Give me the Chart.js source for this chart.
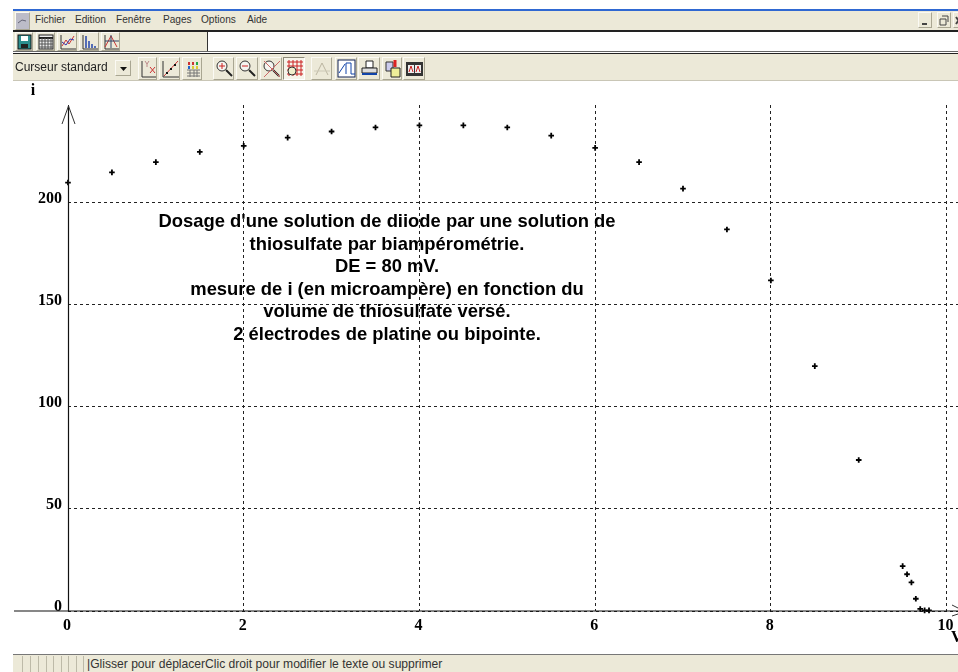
<!DOCTYPE html>
<html lang="fr">
<head>
<meta charset="utf-8">
<title>Dosage biampérométrique</title>
<script src="https://cdn.jsdelivr.net/npm/chart.js@4"></script>
<style>
    html, body { margin: 0; padding: 0; background: #fff; overflow: hidden; }
    #page { position: relative; width: 958px; height: 672px; overflow: hidden; font-family: "Liberation Sans", Arial, sans-serif; color: #111; }
    #graph { position: absolute; left: 0; top: 0; }
    .band { position: absolute; left: 13px; right: 0; background: #ece9d8; }
    .line { position: absolute; left: 13px; right: 0; }
    .menu { position: absolute; top: 13px; font-size: 10.1px; line-height: 14px; color: #333; }
    .btn { position: absolute; box-sizing: border-box; background: #ece9d8; border-right: 1px solid #a9a692; border-bottom: 1px solid #a9a692; border-top: 1px solid #fbfaf4; border-left: 1px solid #fbfaf4; }
    .btn svg { display: block; width: 100%; height: 100%; }
    .btn.on { background: #f6f4ea; border-color: #8d8a78 #fff #fff #8d8a78; }
    #cursor { position: absolute; left: 15px; top: 59px; font-size: 12px; line-height: 16px; color: #222; }
    #status { position: absolute; left: 87px; top: 657px; font-size: 12.1px; line-height: 14px; color: #333; white-space: nowrap; }
    .cell { position: absolute; top: 656px; height: 16px; width: 1px; background: #bdbaa8; }
</style>
</head>
<body>
<div id="page">
    <canvas id="graph" width="958" height="672"></canvas>

    <div class="line" style="top:9px;height:2px;background:#2f68d2"></div>
    <div class="band" style="top:11px;height:19px"></div>
    <div class="line" style="top:30px;height:2px;background:#222"></div>
    <div class="band" style="top:32px;height:20px"></div>
    <div style="position:absolute;left:207px;right:0;top:32px;height:19px;background:#fff;border-left:1px solid #333"></div>
    <div class="line" style="top:51px;height:1px;background:#666"></div>
    <div class="line" style="top:53px;height:1px;background:#222"></div>
    <div class="band" style="top:54px;height:26px"></div>
    <div class="line" style="top:80px;height:1px;background:#c9c6b6"></div>

    <span class="menu" style="left:35px">Fichier</span>
    <span class="menu" style="left:75px">Edition</span>
    <span class="menu" style="left:116px">Fenêtre</span>
    <span class="menu" style="left:163px">Pages</span>
    <span class="menu" style="left:201px">Options</span>
    <span class="menu" style="left:247px">Aide</span>

    <div id="toolbar"></div>
    <div id="cursor">Curseur standard</div>

    <div class="band" style="top:654px;height:18px;border-top:1px solid #777"></div>
    <div id="cells"></div>
    <div id="status">|Glisser pour déplacerClic droit pour modifier le texte ou supprimer</div>
</div>

<script>
    // Points: V (mL) and i (microampere)
    const volumes = [0, 0.5, 1, 1.5, 2, 2.5, 3, 3.5, 4, 4.5, 5, 5.5, 6, 6.5, 7, 7.5, 8, 8.5, 9, 9.5, 9.55, 9.6, 9.65, 9.7, 9.75, 9.8];
    const currents = [210, 215, 220, 225, 228, 232, 235, 237, 238, 238, 237, 233, 227, 220, 207, 187, 162, 120, 74, 22, 18, 14, 6, 1, 0.3, 0.3];

    const xTickValues = [0, 2, 4, 6, 8, 10];
    const yTickValues = [0, 50, 100, 150, 200];
    const xMax = 10.13;
    const yMax = 248;

    const noteLines = [
        "Dosage d'une solution de diiode par une solution de",
        'thiosulfate par biampérométrie.',
        'DE = 80 mV.',
        'mesure de i (en microampère) en fonction du',
        'volume de thiosulfate versé.',
        '2 électrodes de platine ou bipointe.'
    ];

    const tickFont = { family: '"Liberation Serif", serif', size: 16, weight: 'bold' };

    // Axes with their arrows, axis letters and the note
    const axesPlugin = {
        id: 'axesPlugin',
        afterDatasetsDraw: function(chart) {
            const ctx = chart.ctx;
            const x0 = chart.scales.x.getPixelForValue(0);
            const y0 = chart.scales.y.getPixelForValue(0);
            const top = chart.chartArea.top + 1;

            ctx.save();
            ctx.strokeStyle = '#111';
            ctx.lineWidth = 1.2;
            ctx.beginPath();
            ctx.moveTo(14, y0);
            ctx.lineTo(chart.width, y0);
            ctx.moveTo(x0 + 0.5, y0);
            ctx.lineTo(x0 + 0.5, top);
            ctx.stroke();

            ctx.lineWidth = 1;
            ctx.strokeStyle = '#333';
            ctx.beginPath();
            ctx.moveTo(x0 - 6, top + 18);
            ctx.lineTo(x0 + 0.5, top);
            ctx.lineTo(x0 + 7, top + 18);
            ctx.moveTo(952, y0 - 6);
            ctx.lineTo(958, y0 - 3);
            ctx.moveTo(952, y0 + 5);
            ctx.lineTo(958, y0 + 3);
            ctx.stroke();

            ctx.fillStyle = '#000';
            ctx.font = 'bold 16px "Liberation Serif", serif';
            ctx.textBaseline = 'middle';
            ctx.textAlign = 'center';
            ctx.fillText('i', 33, 91);
            ctx.textAlign = 'left';
            ctx.fillText('V', 951, 638);

            ctx.font = 'bold 18.4px "Liberation Sans", Arial, sans-serif';
            ctx.textAlign = 'center';
            noteLines.forEach(function(text, idx) {
                ctx.fillText(text, 387, 222 + idx * 22.6);
            });
            ctx.restore();
        }
    };

    new Chart(document.getElementById('graph'), {
        type: 'scatter',
        data: {
            datasets: [{
                label: 'i',
                data: volumes.map((v, idx) => ({ x: v, y: currents[idx] })),
                pointStyle: 'cross',
                pointRadius: 2.8,
                borderColor: '#000',
                backgroundColor: '#000',
                pointBorderWidth: 1.8,
                clip: false
            }]
        },
        options: {
            responsive: false,
            animation: false,
            layout: { autoPadding: false, padding: { top: 105, left: 0, right: 0, bottom: 0 } },
            plugins: {
                legend: { display: false },
                tooltip: { enabled: false }
            },
            scales: {
                x: {
                    type: 'linear',
                    min: 0,
                    max: xMax,
                    afterFit: function(scale) {
                        scale.height = 61;
                        scale.paddingLeft = 0;
                        scale.paddingRight = 0;
                    },
                    afterBuildTicks: function(scale) {
                        scale.ticks = xTickValues.map(v => ({ value: v }));
                    },
                    grid: { color: '#222', lineWidth: 1, drawTicks: false },
                    border: { display: false, dash: [3, 3] },
                    ticks: { color: '#000', font: tickFont, padding: 5, maxRotation: 0, autoSkip: false, labelOffset: -1 }
                },
                y: {
                    type: 'linear',
                    min: 0,
                    max: yMax,
                    afterFit: function(scale) {
                        scale.width = 68;
                        scale.paddingTop = 0;
                        scale.paddingBottom = 0;
                    },
                    afterBuildTicks: function(scale) {
                        scale.ticks = yTickValues.map(v => ({ value: v }));
                    },
                    grid: { color: '#222', lineWidth: 1, drawTicks: false },
                    border: { display: false, dash: [3, 3] },
                    ticks: { color: '#000', font: tickFont, padding: 6, autoSkip: false, labelOffset: -4 }
                }
            }
        },
        plugins: [axesPlugin]
    });

    /**
     * Window chrome: flat toolbar buttons with small drawn icons
     */
    const axisIcon = '<path d="M3 2V16H18" fill="none" stroke="#333"/>';
    const lensIcon = s => '<circle cx="8" cy="8" r="5" fill="#f4f4f0" stroke="#333"/><path d="M12 12L18 18" stroke="#222" stroke-width="2"/>' + s;
    const gridIcon = c => '<path d="M3 4H19M3 8H19M3 12H19M3 16H19M5 2V18M9 2V18M13 2V18M17 2V18" stroke="' + c + '" fill="none"/>';

    const toolButtons = [
        [15, 32, 18, 19, '<rect x="2" y="2" width="13" height="14" fill="#2c8f8f" stroke="#111"/><rect x="5" y="3" width="7" height="5" fill="#fff"/><rect x="5" y="11" width="7" height="4" fill="#222"/>'],
        [36, 32, 19, 19, '<rect x="2" y="2" width="14" height="14" fill="#eee" stroke="#222"/><path d="M2 5H16" stroke="#222" stroke-width="2"/>' + '<path d="M5 5V16M8 5V16M11 5V16M14 5V16M2 8H16M2 11H16M2 14H16" stroke="#555"/>'],
        [57, 32, 20, 19, axisIcon + '<path d="M4 13L8 7L11 11L16 3" stroke="#c33" fill="none"/><path d="M4 9L8 12L12 6L16 7" stroke="#33a" fill="none"/>'],
        [79, 32, 20, 19, axisIcon + '<path d="M6 15V3M9 15V8M12 15V11M15 15V13" stroke="#24a" stroke-width="1.5"/>'],
        [101, 32, 19, 19, axisIcon + '<path d="M3 14L9 3L15 14" stroke="#c33" fill="none"/><path d="M9 2V15M3 8H17" stroke="#346"/>'],

        [138, 57, 19, 23, axisIcon.replace('M3 2V16H18', 'M3 3V19H18') + '<path d="M11 9L16 15M16 9L11 15" stroke="#c33"/><path d="M6 3L8 6L10 3M8 6V9" stroke="#b88" fill="none"/>'],
        [159, 57, 21, 23, axisIcon.replace('M3 2V16H18', 'M3 3V19H19') + '<path d="M4 18L18 3" stroke="#c33"/><path d="M6 15h2M10 11h2M14 7h2" stroke="#111" stroke-width="2"/>'],
        [182, 57, 20, 23, '<path d="M5 4h2v3h-2zM9 4h2v3h-2z" fill="#c33"/><path d="M13 4h2v3h-2z" fill="#2a4"/><path d="M5 8h2v3h-2z" fill="#26c"/><path d="M9 8h2v3h-2zM13 8h2v3h-2z" fill="#dc3"/><path d="M4 12H17M4 15H17M4 18H17M7 12V19M11 12V19M14 12V19" stroke="#777"/>'],

        [213, 57, 21, 23, lensIcon('<path d="M5 8H11M8 5V11" stroke="#c22"/>')],
        [236, 57, 22, 23, lensIcon('<path d="M5 8H11" stroke="#c22"/>')],
        [260, 57, 22, 23, lensIcon('<path d="M3 3L19 19M19 3L3 19" stroke="#c66"/>')],
        [283, 57, 22, 23, gridIcon('#c22') + '<circle cx="8" cy="13" r="4" fill="#eec" stroke="#333"/>', true],

        [311, 57, 21, 23, '<path d="M4 17L10 5L16 17" stroke="#bbb5a0" fill="none"/><path d="M2 13H18" stroke="#ccc8b6"/>'],
        [335, 57, 22, 23, '<rect x="2" y="2" width="17" height="17" fill="#fff" stroke="#125"/><path d="M3 15L9 6M10 16V5H15V16H19" stroke="#14a" fill="none"/>'],
        [358, 57, 22, 23, '<path d="M7 3H14V10H7z" fill="#fff" stroke="#222"/><path d="M3 10H18V15H3z" fill="#ddd" stroke="#222"/><path d="M3 16H18" stroke="#14a" stroke-width="2"/>'],
        [382, 57, 20, 23, '<path d="M3 4H10V13H3z" fill="#cce" stroke="#333"/><path d="M12 2V9" stroke="#d22" stroke-width="3"/><path d="M8 10H17V19H8z" fill="#ee9" stroke="#222"/>'],
        [403, 57, 22, 23, '<rect x="2" y="4" width="17" height="14" fill="#333"/><rect x="4" y="7" width="6" height="8" fill="#eee"/><rect x="11" y="7" width="6" height="8" fill="#eee"/><path d="M5 14L7 8L9 14M12 14L14 8L16 14" stroke="#c22" fill="none"/>']
    ];

    const toolbar = document.getElementById('toolbar');

    function addButton(x, y, w, h, icon, pressed) {
        const btn = document.createElement('div');
        btn.className = pressed ? 'btn on' : 'btn';
        btn.style.cssText = 'left:' + x + 'px;top:' + y + 'px;width:' + w + 'px;height:' + h + 'px';
        btn.innerHTML = '<svg viewBox="0 0 ' + (w - 2) + ' ' + (h - 2) + '">' + icon + '</svg>';
        toolbar.appendChild(btn);
    }

    toolButtons.forEach(b => addButton(b[0], b[1], b[2], b[3], b[4], b[5]));

    // App icon, dropdown arrow, window buttons
    addButton(15, 12, 15, 18, '<rect x="0" y="0" width="13" height="16" fill="#bcbcc8"/><path d="M2 10L6 7L10 8" stroke="#667" fill="none"/>');
    addButton(115, 60, 16, 16, '<path d="M4 6H11L7.5 10z" fill="#111"/>');
    addButton(918, 12, 14, 16, '<path d="M3 11H8" stroke="#444" stroke-width="2"/>');
    addButton(937, 12, 14, 16, '<path d="M2 6H8V12H2zM4 3H10V9" fill="none" stroke="#444"/>');
    addButton(953, 12, 14, 16, '<path d="M2 4L7 11M7 4L2 11" stroke="#444" stroke-width="2"/>');

    // Status bar cell separators
    const cells = document.getElementById('cells');
    [22, 30, 38, 46, 53, 61, 68, 76, 83].forEach(function(x) {
        const cell = document.createElement('div');
        cell.className = 'cell';
        cell.style.left = x + 'px';
        cells.appendChild(cell);
    });
</script>
</body>
</html>
